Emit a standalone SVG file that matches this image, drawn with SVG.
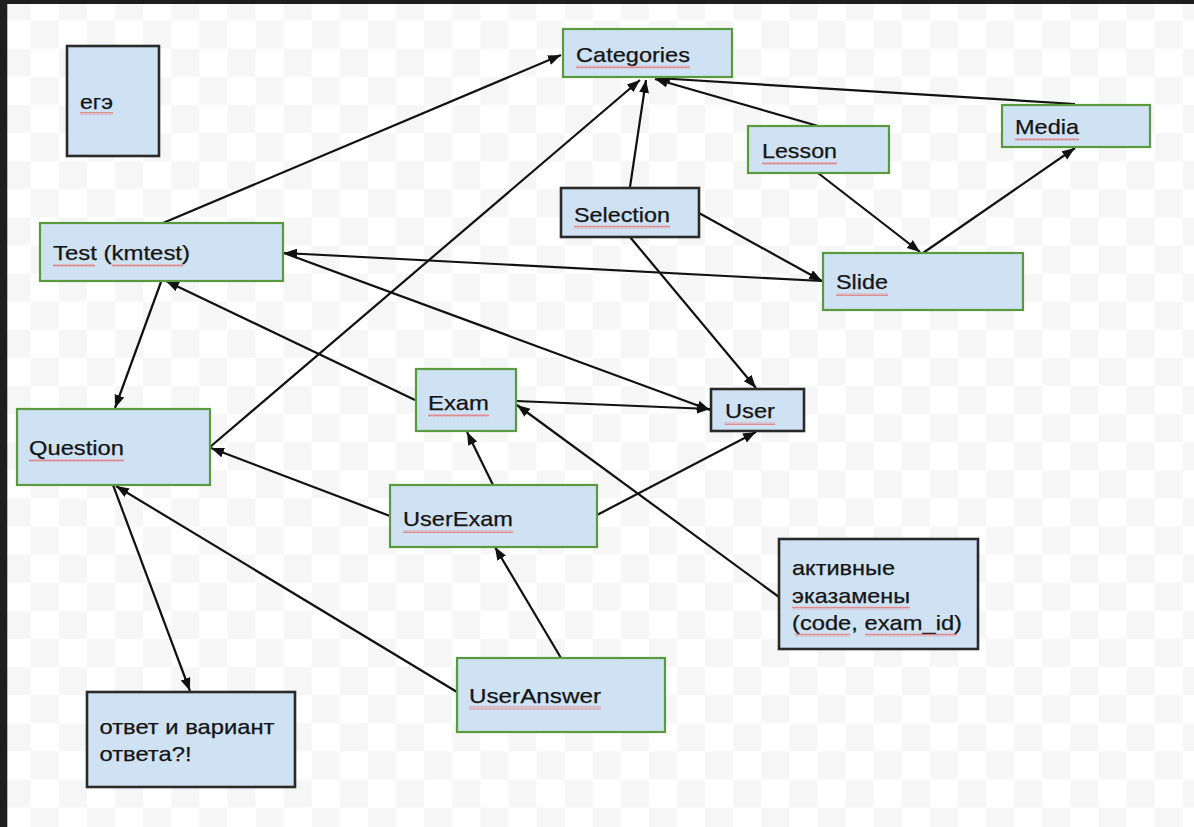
<svg xmlns="http://www.w3.org/2000/svg" width="1194" height="827" viewBox="0 0 1194 827">
<defs>
<pattern id="checker" patternUnits="userSpaceOnUse" x="30.7" y="20.7" width="56.2" height="56.2">
<rect width="56.2" height="56.2" fill="#ffffff"/>
<rect width="28.1" height="28.1" fill="#f6f6f6"/>
<rect x="28.1" y="28.1" width="28.1" height="28.1" fill="#f6f6f6"/>
</pattern>
<pattern id="wave" patternUnits="userSpaceOnUse" width="4" height="3">
<path d="M0,2.5 L1,0.5 L2,2.5 L3,0.5 L4,2.5" fill="none" stroke="#e57373" stroke-width="0.8"/>
</pattern>
<marker id="arr" markerUnits="userSpaceOnUse" markerWidth="14" markerHeight="11" refX="13" refY="5" orient="auto">
<path d="M0,0 L13,5 L0,10 z" fill="#111"/>
</marker>
</defs>
<style>
.g{fill:#cfe2f3;stroke:#5a9a3f;stroke-width:2.2}
.d{fill:#cfe2f3;stroke:#2a2a2a;stroke-width:2.6}
.t{font-family:"Liberation Sans",Arial,sans-serif;font-size:21px;fill:#141414;stroke:#141414;stroke-width:0.25}
.c{fill:none;stroke:#111;stroke-width:2.2;marker-end:url(#arr)}
.w{fill:url(#wave)}
</style>
<rect width="1194" height="827" fill="url(#checker)"/>
<rect x="0" y="0" width="1194" height="4" fill="#1e1e1e"/>
<rect x="0" y="0" width="7.3" height="827" fill="#1e1e1e"/>
<g id="connectors">
<path class="c" d="M163,223 L561,55"/>
<path class="c" d="M210,447 L640,80"/>
<path class="c" d="M630,187 L646,80"/>
<path class="c" d="M818,126 L655,79"/>
<path class="c" d="M1075,104 L657,78"/>
<path class="c" d="M818,173 L920,252"/>
<path class="c" d="M923,253 L1075,148"/>
<path class="c" d="M699,213 L822,281"/>
<path class="c" d="M822,281 L284,253"/>
<path class="c" d="M284,253 L710,410"/>
<path class="c" d="M630,237 L756,388"/>
<path class="c" d="M516,401 L710,409"/>
<path class="c" d="M415,400 L166,281"/>
<path class="c" d="M161,282 L115,408"/>
<path class="c" d="M390,516 L211,448"/>
<path class="c" d="M493,485 L467,432"/>
<path class="c" d="M597,515 L756,432"/>
<path class="c" d="M779,597 L517,405"/>
<path class="c" d="M561,658 L495,547"/>
<path class="c" d="M457,692 L116,486"/>
<path class="c" d="M113,485 L190,691"/>
</g>
<g id="ege">
<rect class="d" x="67" y="46" width="92" height="110"/>
<text class="t" x="80" y="109" textLength="33" lengthAdjust="spacingAndGlyphs">егэ</text>
<rect class="w" x="80" y="112" width="33" height="3"/>
</g>
<g id="categories">
<rect class="g" x="563" y="29" width="169" height="48"/>
<text class="t" x="576" y="61.5" textLength="114" lengthAdjust="spacingAndGlyphs">Categories</text>
<rect class="w" x="576" y="65.5" width="114" height="3"/>
</g>
<g id="media">
<rect class="g" x="1002" y="105" width="148" height="42"/>
<text class="t" x="1015" y="134" textLength="64" lengthAdjust="spacingAndGlyphs">Media</text>
<rect class="w" x="1015" y="138" width="64" height="3"/>
</g>
<g id="lesson">
<rect class="g" x="748" y="126" width="141" height="47"/>
<text class="t" x="762" y="158" textLength="75" lengthAdjust="spacingAndGlyphs">Lesson</text>
<rect class="w" x="762" y="162" width="75" height="3"/>
</g>
<g id="selection">
<rect class="d" x="561" y="188" width="138" height="49"/>
<text class="t" x="574" y="221.5" textLength="96" lengthAdjust="spacingAndGlyphs">Selection</text>
<rect class="w" x="574" y="225.5" width="96" height="3"/>
</g>
<g id="slide">
<rect class="g" x="823" y="253" width="200" height="57"/>
<text class="t" x="836" y="289" textLength="52" lengthAdjust="spacingAndGlyphs">Slide</text>
<rect class="w" x="836" y="293" width="52" height="3"/>
</g>
<g id="test">
<rect class="g" x="40" y="223" width="243" height="58"/>
<text class="t" x="53" y="260" textLength="137" lengthAdjust="spacingAndGlyphs">Test (kmtest)</text>
<rect class="w" x="53" y="264" width="42" height="3"/>
<rect class="w" x="112" y="264" width="71" height="3"/>
</g>
<g id="question">
<rect class="g" x="17" y="409" width="193" height="76"/>
<text class="t" x="29" y="455" textLength="95" lengthAdjust="spacingAndGlyphs">Question</text>
<rect class="w" x="29" y="459" width="95" height="3"/>
</g>
<g id="exam">
<rect class="g" x="416" y="369" width="100" height="62"/>
<text class="t" x="428" y="410" textLength="61" lengthAdjust="spacingAndGlyphs">Exam</text>
<rect class="w" x="428" y="414" width="61" height="3"/>
</g>
<g id="user">
<rect class="d" x="711" y="389" width="93" height="42"/>
<text class="t" x="725" y="418" textLength="50" lengthAdjust="spacingAndGlyphs">User</text>
<rect class="w" x="725" y="422" width="50" height="3"/>
</g>
<g id="userexam">
<rect class="g" x="390" y="485" width="207" height="62"/>
<text class="t" x="403" y="526" textLength="110" lengthAdjust="spacingAndGlyphs">UserExam</text>
<rect class="w" x="403" y="530" width="110" height="3"/>
</g>
<g id="active-exams">
<rect class="d" x="779" y="539" width="199" height="110"/>
<text class="t" x="792" y="575" textLength="103" lengthAdjust="spacingAndGlyphs">активные</text>
<text class="t" x="792" y="602.5" textLength="118" lengthAdjust="spacingAndGlyphs">эказамены</text>
<text class="t" x="792" y="629.5" textLength="170" lengthAdjust="spacingAndGlyphs">(code, exam_id)</text>
<rect class="w" x="792" y="606.5" width="118" height="3"/>
<rect class="w" x="795" y="633.5" width="55" height="3"/>
<rect class="w" x="865" y="633.5" width="92" height="3"/>
</g>
<g id="useranswer">
<rect class="g" x="457" y="658" width="208" height="74"/>
<text class="t" x="469" y="702.5" textLength="132" lengthAdjust="spacingAndGlyphs">UserAnswer</text>
<rect class="w" x="469" y="706.5" width="132" height="3"/>
</g>
<g id="answer">
<rect class="d" x="87" y="692" width="208" height="95"/>
<text class="t" x="99.5" y="734" textLength="175" lengthAdjust="spacingAndGlyphs">ответ и вариант</text>
<text class="t" x="99.5" y="761" textLength="92" lengthAdjust="spacingAndGlyphs">ответа?!</text>
</g>
</svg>
